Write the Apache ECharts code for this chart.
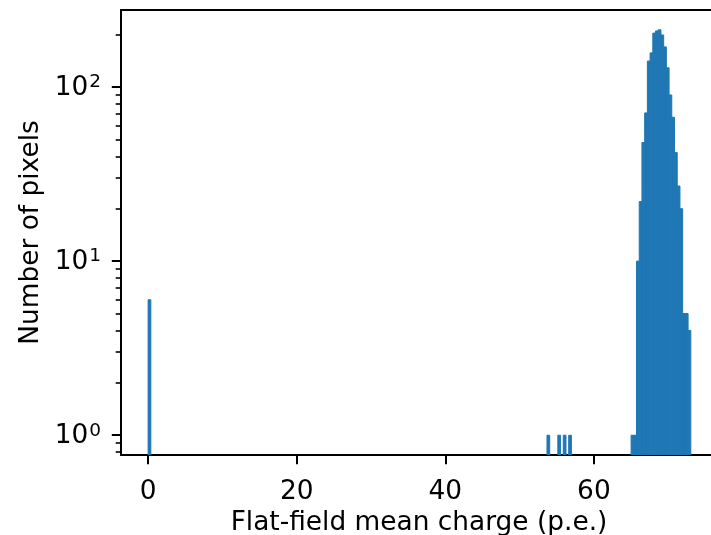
<!DOCTYPE html>
<html>
<head>
<meta charset="utf-8">
<script src="https://cdn.jsdelivr.net/npm/echarts@6/dist/echarts.min.js"></script>
<style>
html,body{margin:0;padding:0;background:#fff;}
#chart{width:711px;height:535px;}
</style>
</head>
<body>
<div id="chart"></div>
<script>
// Histogram data (bin left edges in p.e., counts per bin)
const binWidth = 0.3652;
const binStarts = [0.0, 53.684, 55.145, 55.876, 56.606,
  65.006, 65.371, 65.736, 66.101, 66.466, 66.832, 67.197, 67.562, 67.927, 68.292, 68.658,
  69.023, 69.388, 69.753, 70.118, 70.484, 70.849, 71.214, 71.579, 71.944, 72.310, 72.675];
const counts = [6, 1, 1, 1, 1,
  1, 1, 10, 22, 48, 71, 141, 157, 204, 210, 213,
  199, 170, 129, 90, 67, 42, 27, 20, 5, 5, 4];
const xTickValues = [0, 20, 40, 60];
const yMajorTicks = [1, 10, 100];
const yMinorTicks = [0.8, 0.9, 2, 3, 4, 5, 6, 7, 8, 9, 20, 30, 40, 50, 60, 70, 80, 90, 200];
const xMin = -3.65, xMax = 75.76;
const yMin = 0.770, yMax = 276.9;

const FONT = 'DejaVu Sans';
const FS = 26.4;
const data = binStarts.map((b, i) => [b, counts[i]]);

const chart = echarts.init(document.getElementById('chart'), null, {renderer: 'canvas'});
chart.setOption({
  backgroundColor: '#ffffff',
  animation: false,
  grid: {left: 121, right: 0, top: 10, bottom: 80, containLabel: false, outerBoundsMode: 'none'},
  xAxis: [{
    type: 'value', min: xMin, max: xMax, position: 'bottom',
    name: 'Flat-field mean charge (p.e.)', nameLocation: 'middle', nameGap: 55,
    nameTextStyle: {fontFamily: FONT, fontSize: FS, color: '#000', padding: [0, 0, 0, 6]},
    axisLine: {show: true, onZero: false, lineStyle: {color: '#000', width: 2}},
    axisTick: {show: true, length: 9.2, lineStyle: {color: '#000', width: 2}, customValues: xTickValues},
    axisLabel: {show: true, margin: 24, fontFamily: FONT, fontSize: FS, color: '#000', customValues: xTickValues},
    splitLine: {show: false}
  }, {
    type: 'value', min: xMin, max: xMax, position: 'top',
    axisLine: {show: true, onZero: false, lineStyle: {color: '#000', width: 2}},
    axisTick: {show: false}, axisLabel: {show: false}, splitLine: {show: false}
  }],
  yAxis: [{
    type: 'log', logBase: 10, min: yMin, max: yMax, position: 'left',
    name: 'Number of pixels', nameLocation: 'middle', nameGap: 77, nameRotate: 90,
    nameTextStyle: {fontFamily: FONT, fontSize: FS, color: '#000'},
    axisLine: {show: true, onZero: false, lineStyle: {color: '#000', width: 2}},
    axisTick: {show: true, length: 9.2, lineStyle: {color: '#000', width: 2}, customValues: yMajorTicks},
    axisLabel: {
      show: true, margin: 20, customValues: yMajorTicks,
      formatter: function (v) { return '{b|10}{s|' + Math.round(Math.log10(v)) + '}'; },
      rich: {
        b: {fontFamily: FONT, fontSize: FS, color: '#000', lineHeight: 28, verticalAlign: 'bottom'},
        s: {fontFamily: FONT, fontSize: 18.5, color: '#000', lineHeight: 16, verticalAlign: 'top', padding: [0, 0, 0, 1]}
      }
    },
    splitLine: {show: false}
  }, {
    type: 'log', logBase: 10, min: yMin, max: yMax, position: 'left', gridIndex: 0,
    axisLine: {show: false, onZero: false},
    axisTick: {show: true, length: 5.3, lineStyle: {color: '#000', width: 1.6}, customValues: yMinorTicks},
    axisLabel: {show: false}, splitLine: {show: false}
  }],
  series: [{
    type: 'custom',
    xAxisIndex: 0, yAxisIndex: 0,
    data: data,
    encode: {x: 0, y: 1},
    clip: true,
    renderItem: function (params, api) {
      const x0 = api.value(0), c = api.value(1);
      const pTop = api.coord([x0, c]);
      const pBot = api.coord([x0 + binWidth, yMin]);
      return {
        type: 'rect',
        shape: {x: pTop[0], y: pTop[1], width: pBot[0] - pTop[0], height: pBot[1] - pTop[1]},
        style: {fill: '#1f77b4', stroke: '#1f77b4', lineWidth: 1}
      };
    }
  }]
});
</script>
</body>
</html>
